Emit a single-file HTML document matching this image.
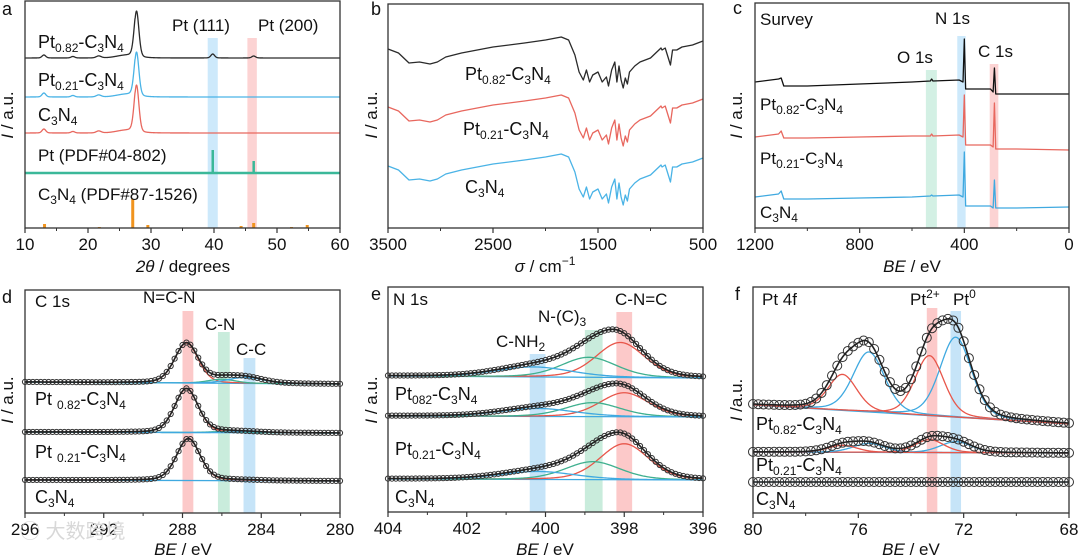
<!DOCTYPE html>
<html><head><meta charset="utf-8">
<style>
html,body{margin:0;padding:0;background:#fff;}
svg{display:block;font-family:"Liberation Sans","Noto Sans CJK SC",sans-serif;}
</style></head>
<body>
<svg id="fig" width="1080" height="559" viewBox="0 0 1080 559" xmlns="http://www.w3.org/2000/svg"></svg>
<script>
// ---------- DATA ----------
// panel a (XRD)
const xrdNames = ['Pt0.82-C3N4', 'Pt0.21-C3N4', 'C3N4'];
const xrdBase = [170, 131, 95];
const xrdPeakPos = [13.0, 17.6, 21.7, 27.7, 39.8, 46.3];
const xrdPeakWidth = [0.3, 0.3, 0.4, 0.38, 0.3, 0.3];
const xrdHeightsBlack = [3, 1.5, 2, 47, 4, 2];
const xrdHeightsBlue = [4, 1.5, 2, 45, 0, 0];
const xrdHeightsRed = [4, 1.5, 2, 48, 0, 0];
const ptRefPos = [39.8, 46.3];
const ptRefHeights = [23, 12];
const ptRefBase = 55;
const cnRefPos = [13.1, 21.8, 27.1, 29.5, 44.3, 46.3, 52.3, 54.8];
const cnRefHeights = [4, 1, 29, 3, 2, 5, 1, 3];
const xrdTicks = [10, 20, 30, 40, 50, 60];
// panel b (FTIR)
const ftirWn = [3500,3400,3300,3200,3100,3030,2950,2800,2500,2200,2000,1850,1780,1720,1680,1640,1610,1580,1550,1500,1460,1420,1400,1370,1340,1320,1300,1280,1260,1240,1220,1200,1150,1100,1000,900,890,860,810,790,750,700,600,500];
const ftirBlack = [179,175,165,166,164,166,171,175,181,185,188,191,188,173,156,148,158,146,153,156,146,151,142,158,166,146,162,148,140,150,144,156,162,166,170,180,178,180,163,178,178,181,183,187];
const ftirRed = [121,117,107,108,106,108,113,117,123,127,130,133,130,115,98,90,100,88,95,98,88,93,84,100,108,88,104,90,82,92,86,98,104,108,112,122,120,122,105,120,120,123,125,129];
const ftirBlue = [62,58,48,49,47,49,54,58,64,68,71,74,71,56,39,31,41,29,36,39,29,34,25,41,49,29,45,31,23,33,27,39,45,49,53,63,61,63,46,61,61,64,66,70];
const ftirTicks = [3500, 2500, 1500, 500];
// panel c (survey)
const surveyBE = [1200,1110,1100,1090,1000,800,600,530,525,520,420,405,400,395,300,290,285,280,200,0];
const surveyBlack = [146,149,150,142,142,144,146,147,149,147,148,146,189,139,139,136,160,134,134,134];
const surveyRed = [91,94,97,90,90,91,92,92,94,92,93,91,133,83,83,81,125,79,79,78];
const surveyBlue = [31,34,37,29,29,30,31,32,33,32,33,31,76,22,22,20,48,20,20,21];
const surveyTicks = [1200, 800, 400, 0];
// panel d (C 1s)
const c1sBase = [131, 81, 33];
const c1sCenters = [287.8, 286.0, 284.8];
const c1sSigma = [0.6, 0.7, 0.9];
const c1sHeightsTop = [40, 4, 6];
const c1sHeightsMid = [44, 1, 1];
const c1sHeightsBot = [42, 0.5, 0.5];
const c1sTicks = [296, 292, 288, 284, 280];
// panel e (N 1s)
const n1sBase = [136, 96, 33];
const n1sCenters = [398.1, 398.9, 400.3];
const n1sSigma = [0.62, 0.7, 0.95];
const n1sHeightsTop = [35, 20, 10];
const n1sHeightsMid = [24, 14, 8];
const n1sHeightsBot = [36, 18, 8];
const n1sTicks = [404, 402, 400, 398, 396];
// panel f (Pt 4f)
const pt4fCenters = [72.3, 73.3, 75.6, 76.6];
const pt4fSigma = [0.6, 0.55, 0.6, 0.55];
const pt4fHeightsTop = [80, 60, 60, 36];
const pt4fHeightsMid = [11, 13, 9, 7];
const pt4fBaseLeft = [108, 61, 31];
const pt4fBaseRight = [89, 60, 31];
const pt4fTicks = [80, 76, 72, 68];

// ---------- HELPERS ----------
const svg = document.getElementById('fig');
const NS = 'http://www.w3.org/2000/svg';
function mk(tag, attrs, name, parent) {
  const el = document.createElementNS(NS, tag);
  for (const k in attrs) el.setAttribute(k, attrs[k]);
  
  
  (parent || svg).appendChild(el);
  return el;
}
function axis(x0, x1, px0, px1, bottom, top) {
  return { x0, x1, px0, px1, bottom, top,
    sx: v => px0 + (v - x0) / (x1 - x0) * (px1 - px0),
    sy: v => bottom - v };
}
function pv(x, c, h, w) {
  const g = Math.exp(-0.5 * ((x - c) / w) ** 2);
  const l = 1 / (1 + ((x - c) / (w * 1.177)) ** 2);
  return h * (0.75 * g + 0.25 * l);
}
function poly(ax, xs, ys, color, name, sw) {
  let d = '';
  for (let i = 0; i < xs.length; i++) d += (i ? 'L' : 'M') + ax.sx(xs[i]).toFixed(2) + ',' + ax.sy(ys[i]).toFixed(2);
  return mk('path', { d, fill: 'none', stroke: color, 'stroke-width': sw || 1.3, 'stroke-linejoin': 'round' }, name);
}
function range(a, b, step) { const r = []; if (a < b) for (let v = a; v <= b + 1e-9; v += step) r.push(v); else for (let v = a; v >= b - 1e-9; v -= step) r.push(v); return r; }
function band(ax, v0, v1, ytop, color, name) {
  const a = ax.sx(v0), b = ax.sx(v1);
  mk('rect', { x: Math.min(a, b), y: ytop, width: Math.abs(b - a), height: ax.bottom - ytop, fill: color }, name);
}
function frame(ax, ticks, minorPerMajor, name) {
  mk('rect', { x: ax.px0, y: ax.top, width: ax.px1 - ax.px0, height: ax.bottom - ax.top, fill: 'none', stroke: '#333', 'stroke-width': 1.3 }, name + '-frame');
  for (let i = 0; i < ticks.length; i++) {
    const x = ax.sx(ticks[i]);
    mk('line', { x1: x, y1: ax.bottom, x2: x, y2: ax.bottom + 5, stroke: '#333', 'stroke-width': 1.2 }, name + '-tick');
    const t = mk('text', { x, y: ax.bottom + 22, 'text-anchor': 'middle', 'font-size': 17, fill: '#111' }, name + '-tick-label');
    t.textContent = ticks[i];
    if (i < ticks.length - 1) {
      for (let k = 1; k < minorPerMajor; k++) {
        const xm = ax.sx(ticks[i] + (ticks[i + 1] - ticks[i]) * k / minorPerMajor);
        mk('line', { x1: xm, y1: ax.bottom, x2: xm, y2: ax.bottom + 3, stroke: '#333', 'stroke-width': 1 }, name + '-minor-tick');
      }
    }
  }
}
function txt(x, y, html, name, size, anchor, extra) {
  const t = mk('text', Object.assign({ x, y, 'font-size': size || 17, fill: '#111', 'text-anchor': anchor || 'start' }, extra || {}), name);
  t.innerHTML = html;
  return t;
}
const sub = s => `<tspan font-size="12" baseline-shift="-4">${s}</tspan>`;
const sup = s => `<tspan font-size="12" baseline-shift="7">${s}</tspan>`;
const PT082 = `Pt${sub('0.82')}-C${sub('3')}N${sub('4')}`;
const PT021 = `Pt${sub('0.21')}-C${sub('3')}N${sub('4')}`;
const CN = `C${sub('3')}N${sub('4')}`;
function ytitle(x, y, name, label) {
  txt(x, y, label || '<tspan font-style="italic">I</tspan> / a.u.', name, 17, 'middle', { transform: `rotate(-90 ${x} ${y})` });
}
function circles(ax, xs, ys, r, name) {
  for (let i = 0; i < xs.length; i++) {
    mk('circle', { cx: ax.sx(xs[i]).toFixed(2), cy: ax.sy(ys[i]).toFixed(2), r, fill: 'none', stroke: '#333', 'stroke-width': 1 }, name);
  }
}

// ---------- PANEL A ----------
const A = axis(10, 60, 25, 340, 228, 1);
band(A, 39, 40.6, 38, '#cde9fb', 'pt111-band');
band(A, 45.3, 46.8, 38, '#fcd3d3', 'pt200-band');
const xrdX = range(10, 60, 0.05);
[[xrdHeightsBlack, '#2a2a2a'], [xrdHeightsBlue, '#4ab3e6'], [xrdHeightsRed, '#e8675e']].forEach((s, si) => {
  const ys = xrdX.map(x => {
    let v = xrdBase[si] + (x > 20 && x < 27.5 ? 2.5 * Math.exp(-0.5 * ((x - 26) / 1.5) ** 2) : 0);
    for (let k = 0; k < xrdPeakPos.length; k++) v += pv(x, xrdPeakPos[k], s[0][k], xrdPeakWidth[k]);
    return v;
  });
  poly(A, xrdX, ys, s[1], 'xrd-curve-' + xrdNames[si], 1.3);
});
mk('line', { x1: A.px0, y1: A.sy(ptRefBase), x2: A.px1, y2: A.sy(ptRefBase), stroke: '#3bb899', 'stroke-width': 2.5 }, 'pt-ref-baseline');
ptRefPos.forEach((p, i) => mk('line', { x1: A.sx(p), y1: A.sy(ptRefBase), x2: A.sx(p), y2: A.sy(ptRefBase + ptRefHeights[i]), stroke: '#3bb899', 'stroke-width': 2.5 }, 'pt-ref-stick'));
cnRefPos.forEach((p, i) => mk('line', { x1: A.sx(p), y1: A.sy(0), x2: A.sx(p), y2: A.sy(cnRefHeights[i]), stroke: '#f0941e', 'stroke-width': 3 }, 'c3n4-ref-stick'));
frame(A, xrdTicks, 2, 'panel-a');
txt(2, 15, 'a', 'panel-a-letter', 18);
ytitle(13, 115, 'panel-a-y-title');
txt(183, 272, '<tspan font-style="italic">2θ</tspan> / degrees', 'panel-a-x-title', 17, 'middle');
txt(38, 48, PT082, 'label-pt082', 18);
txt(38, 86, PT021, 'label-pt021', 18);
txt(38, 121, CN, 'label-c3n4', 18);
txt(38, 161, 'Pt (PDF#04-802)', 'label-pt-ref', 17);
txt(38, 200, CN + ' (PDF#87-1526)', 'label-c3n4-ref', 17);
txt(172, 31, 'Pt (111)', 'label-pt111', 17);
txt(258, 31, 'Pt (200)', 'label-pt200', 17);

// ---------- PANEL B ----------
const B = axis(3500, 500, 388, 703, 228, 4);
poly(B, ftirWn, ftirBlack, '#2a2a2a', 'ftir-pt082', 1.3);
poly(B, ftirWn, ftirRed, '#e8675e', 'ftir-pt021', 1.3);
poly(B, ftirWn, ftirBlue, '#4ab3e6', 'ftir-c3n4', 1.3);
frame(B, ftirTicks, 2, 'panel-b');
txt(371, 15, 'b', 'panel-b-letter', 18);
ytitle(377, 115, 'panel-b-y-title');
txt(545, 272, '<tspan font-style="italic">σ</tspan> / cm' + sup('−1'), 'panel-b-x-title', 17, 'middle');
txt(465, 80, PT082, 'ftir-label-pt082', 18);
txt(463, 135, PT021, 'ftir-label-pt021', 18);
txt(465, 193, CN, 'ftir-label-c3n4', 18);

// ---------- PANEL C ----------
const C = axis(1200, 0, 755, 1069, 228, 3);
band(C, 547, 505, 70, '#d3f0e4', 'o1s-band');
band(C, 427, 395, 36, '#cde9fb', 'n1s-band');
band(C, 303, 270, 64, '#fcd3d3', 'c1s-band');
poly(C, surveyBE, surveyBlack, '#111', 'survey-pt082', 1.3);
poly(C, surveyBE, surveyRed, '#e8675e', 'survey-pt021', 1.3);
poly(C, surveyBE, surveyBlue, '#3fa9e0', 'survey-c3n4', 1.3);
frame(C, surveyTicks, 2, 'panel-c');
txt(733, 14, 'c', 'panel-c-letter', 18);
ytitle(742, 115, 'panel-c-y-title');
txt(912, 272, '<tspan font-style="italic">BE</tspan> / eV', 'panel-c-x-title', 17, 'middle');
txt(760, 25, 'Survey', 'survey-label', 17);
txt(935, 24, 'N 1s', 'n1s-label', 17);
txt(897, 63, 'O 1s', 'o1s-label', 17);
txt(978, 57, 'C 1s', 'c1s-label', 17);
txt(760, 110, PT082, 'survey-label-pt082', 17);
txt(760, 164, PT021, 'survey-label-pt021', 17);
txt(760, 218, CN, 'survey-label-c3n4', 17);

// ---------- XPS helper ----------
const compColors = ['#e8564a', '#3fb08f', '#3fa9e0'];
function xpsSeries(ax, xs, circXs, centers, sigmas, heights, baseL, baseR, colors, name, r, shift) {
  const base = x => baseL + (baseR - baseL) * (x - ax.x0) / (ax.x1 - ax.x0);
  const env = x => { let v = base(x); for (let k = 0; k < centers.length; k++) v += pv(x, centers[k] + (shift || 0), heights[k], sigmas[k]); return v; };
  mk('path', { d: `M${ax.sx(ax.x0)},${ax.sy(baseL)}L${ax.sx(ax.x1)},${ax.sy(baseR)}`, stroke: '#3fa9e0', 'stroke-width': 1.3, fill: 'none' }, name + '-background');
  for (let k = 0; k < centers.length; k++) {
    if (heights[k] < 1) continue;
    poly(ax, xs, xs.map(x => base(x) + pv(x, centers[k] + (shift || 0), heights[k], sigmas[k])), colors[k], name + '-component', 1.3);
  }
  circles(ax, circXs, circXs.map(env), r, name + '-data-point');
  poly(ax, xs, xs.map(env), '#222', name + '-fit-envelope', 1.6);
}

// ---------- PANEL D ----------
const D = axis(296, 280, 25, 340, 513, 290);
band(D, 288.0, 287.45, 311, '#fcc9c9', 'nccn-band');
band(D, 286.2, 285.6, 332, '#c9ecdc', 'cn-band');
band(D, 284.9, 284.3, 358, '#c6e4f8', 'cc-band');
const dX = range(296, 280, 0.05), dC = range(296, 280, 0.2);
xpsSeries(D, dX, dC, c1sCenters, c1sSigma, c1sHeightsTop, c1sBase[0], c1sBase[0] - 2, compColors, 'c1s-pt082', 2.6, 0);
xpsSeries(D, dX, dC, c1sCenters, c1sSigma, c1sHeightsMid, c1sBase[1], c1sBase[1] - 1, compColors, 'c1s-pt021', 2.6, 0);
xpsSeries(D, dX, dC, c1sCenters, c1sSigma, c1sHeightsBot, c1sBase[2], c1sBase[2] - 1, compColors, 'c1s-c3n4', 2.6, -0.1);
frame(D, c1sTicks, 2, 'panel-d');
txt(2, 303, 'd', 'panel-d-letter', 18);
ytitle(13, 400, 'panel-d-y-title');
txt(183, 555, '<tspan font-style="italic">BE</tspan> / eV', 'panel-d-x-title', 17, 'middle');
txt(35, 307, 'C 1s', 'c1s-title', 17);
txt(143, 303, 'N=C-N', 'nccn-label', 17);
txt(205, 330, 'C-N', 'cn-label', 17);
txt(236, 355, 'C-C', 'cc-label', 17);
txt(35, 405, `Pt ${sub('0.82')}-C${sub('3')}N${sub('4')}`, 'c1s-label-pt082', 18);
txt(35, 458, `Pt ${sub('0.21')}-C${sub('3')}N${sub('4')}`, 'c1s-label-pt021', 18);
txt(35, 503, CN, 'c1s-label-c3n4', 18);
txt(20, 538, '◯ 大数跨境', 'watermark', 20, 'start', { fill: '#d8d8d8' });

// ---------- PANEL E ----------
const E = axis(404, 396, 388, 703, 512, 287);
band(E, 400.4, 400.0, 354, '#c6e4f8', 'cnh2-band');
band(E, 399.0, 398.55, 330, '#c9ecdc', 'nc3-band');
band(E, 398.2, 397.8, 312, '#fcc9c9', 'cnc-band');
const eX = range(404, 396, 0.03), eC = range(404, 396, 0.1);
xpsSeries(E, eX, eC, n1sCenters, n1sSigma, n1sHeightsTop, n1sBase[0], n1sBase[0] - 2, compColors, 'n1s-pt082', 2.6, 0);
xpsSeries(E, eX, eC, n1sCenters, n1sSigma, n1sHeightsMid, n1sBase[1], n1sBase[1] - 1, compColors, 'n1s-pt021', 2.6, -0.1);
xpsSeries(E, eX, eC, n1sCenters, n1sSigma, n1sHeightsBot, n1sBase[2], n1sBase[2] - 1, compColors, 'n1s-c3n4', 2.6, -0.1);
frame(E, n1sTicks, 2, 'panel-e');
txt(371, 300, 'e', 'panel-e-letter', 18);
ytitle(377, 400, 'panel-e-y-title');
txt(545, 555, '<tspan font-style="italic">BE</tspan> / eV', 'panel-e-x-title', 17, 'middle');
txt(393, 305, 'N 1s', 'n1s-title', 17);
txt(496, 347, `C-NH${sub('2')}`, 'cnh2-label', 17);
txt(538, 322, `N-(C)${sub('3')}`, 'nc3-label', 17);
txt(615, 305, 'C-N=C', 'cnc-label', 17);
txt(395, 400, `Pt${sub('082')}-C${sub('3')}N${sub('4')}`, 'n1s-label-pt082', 18);
txt(395, 455, PT021, 'n1s-label-pt021', 18);
txt(395, 503, CN, 'n1s-label-c3n4', 18);

// ---------- PANEL F ----------
const F = axis(80, 68, 753, 1069, 513, 287);
band(F, 73.4, 73.0, 308, '#fcc9c9', 'pt2-band');
band(F, 72.5, 72.1, 311, '#c6e4f8', 'pt0-band');
const fX = range(80, 68, 0.03), fC = range(80, 68, 0.2);
const fColors = ['#3fa9e0', '#e8564a', '#3fa9e0', '#e8564a'];
xpsSeries(F, fX, fC, pt4fCenters, pt4fSigma, pt4fHeightsTop, pt4fBaseLeft[0], pt4fBaseRight[0], fColors, 'pt4f-pt082', 4.5, 0);
xpsSeries(F, fX, fC, pt4fCenters, pt4fSigma, pt4fHeightsMid, pt4fBaseLeft[1], pt4fBaseRight[1], fColors, 'pt4f-pt021', 4.5, 0);
xpsSeries(F, fX, fC, pt4fCenters, pt4fSigma, [0, 0, 0, 0], pt4fBaseLeft[2], pt4fBaseRight[2], fColors, 'pt4f-c3n4', 4.5, 0);
frame(F, pt4fTicks, 2, 'panel-f');
txt(735, 300, 'f', 'panel-f-letter', 18);
ytitle(742, 400, 'panel-f-y-title', '<tspan font-style="italic">I</tspan> /a.u.');
txt(911, 555, '<tspan font-style="italic">BE</tspan> / eV', 'panel-f-x-title', 17, 'middle');
txt(762, 305, 'Pt  4f', 'pt4f-title', 17);
txt(910, 305, 'Pt' + sup('2+'), 'pt2-label', 17);
txt(953, 305, 'Pt' + sup('0'), 'pt0-label', 17);
txt(756, 430, PT082, 'pt4f-label-pt082', 18);
txt(756, 471, PT021, 'pt4f-label-pt021', 18);
txt(756, 505, CN, 'pt4f-label-c3n4', 18);
</script>
</body></html>
